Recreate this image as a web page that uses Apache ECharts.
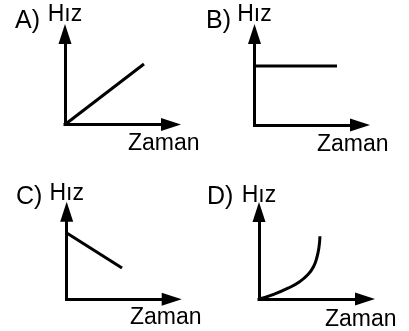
<!DOCTYPE html>
<html>
<head>
<meta charset="utf-8">
<script src="https://cdn.jsdelivr.net/npm/echarts@6/dist/echarts.min.js"></script>
<style>
  html, body { margin: 0; padding: 0; background: #fff; }
  #chart { width: 409px; height: 331px; }
</style>
</head>
<body>
<div id="chart"></div>
<script>
// panel letters and axis names
var panelLabels = ['A)', 'B)', 'C)', 'D)']
var yName = 'Hız'
var xName = 'Zaman'

// graph of each panel (x = zaman, y = hız, both on a 0..10 scale)
var lineA = [[0, 0], [7.45, 6.69]]
var lineB = [[0, 6.48], [7.82, 6.48]]
var lineC = [[0, 7.57], [5.27, 3.57]]
var lineD = [[0, 0], [1.32, 0.51], [2.74, 1.24], [3.87, 2.02], [4.62, 2.81], [5.14, 3.71],
  [5.47, 4.83], [5.66, 5.96], [5.75, 7.22]]

var panelData = [lineA, lineB, lineC, lineD]

// pixel layout: origin, arrow tips, label offsets
var layout = [
  { ox: 65, oy: 124.5, xTip: 181, yTip: 24, tl: 15, tt: 9, yGap: 8, xGap: -43, xPad: 7.5 },
  { ox: 254.5, oy: 125, xTip: 370, yTip: 24, tl: 206, tt: 9, yGap: 8, xGap: -43, xPad: 8 },
  { ox: 66.7, oy: 299.3, xTip: 181.7, yTip: 201.7, tl: 16, tt: 185, yGap: 6.5, xGap: -41.7, xPad: 7 },
  { ox: 259, oy: 301, xTip: 375, yTip: 202, tl: 207, tt: 185, yGap: 5, xGap: -40, xPad: 9 }
]

var arrowLen = 20
var arrowW = 13
var font = 'Liberation Sans, Arial, sans-serif'

var axisLine = {
  show: true,
  symbol: ['none', 'triangle'],
  symbolSize: [arrowW, arrowLen],
  lineStyle: { color: '#000', width: 3, cap: 'square' }
}

var grids = [], xAxes = [], yAxes = [], series = [], titles = []

layout.forEach(function (p, i) {
  var half = arrowLen / 2
  grids.push({
    left: p.ox,
    top: p.yTip + half,
    width: p.xTip - half - p.ox,
    height: p.oy - (p.yTip + half)
  })
  xAxes.push({
    gridIndex: i,
    type: 'value',
    min: 0,
    max: 10,
    name: xName,
    nameLocation: 'end',
    nameGap: p.xGap,
    nameTextStyle: {
      fontFamily: font, fontSize: 23, color: '#000',
      align: 'left', verticalAlign: 'top', padding: [p.xPad, 0, 0, 0]
    },
    axisLine: axisLine,
    axisTick: { show: false },
    axisLabel: { show: false },
    splitLine: { show: false }
  })
  yAxes.push({
    gridIndex: i,
    type: 'value',
    min: 0,
    max: 10,
    name: yName,
    nameLocation: 'end',
    nameGap: p.yGap,
    nameTextStyle: {
      fontFamily: font, fontSize: 23, color: '#000',
      align: 'center', verticalAlign: 'bottom'
    },
    axisLine: axisLine,
    axisTick: { show: false },
    axisLabel: { show: false },
    splitLine: { show: false }
  })
  series.push({
    type: 'line',
    xAxisIndex: i,
    yAxisIndex: i,
    data: panelData[i],
    smooth: i === 3 ? 0.5 : false,
    showSymbol: false,
    lineStyle: { color: '#000', width: 3 },
    z: 1
  })
  titles.push({
    text: panelLabels[i],
    left: p.tl,
    top: p.tt,
    padding: 0,
    textStyle: { fontFamily: font, fontSize: 25, fontWeight: 'normal', color: '#000' }
  })
})

var myChart = echarts.init(document.getElementById('chart'))
myChart.setOption({
  animation: false,
  backgroundColor: '#fff',
  title: titles,
  grid: grids,
  xAxis: xAxes,
  yAxis: yAxes,
  series: series
})
</script>
</body>
</html>
